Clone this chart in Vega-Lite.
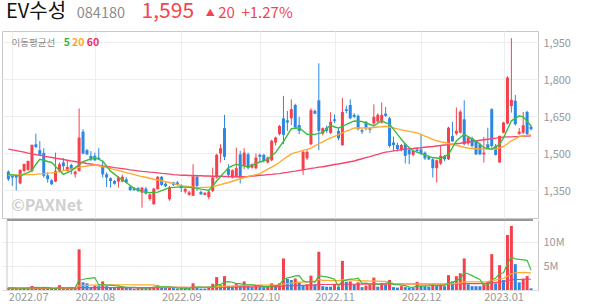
{
"$schema":"https://vega.github.io/schema/vega-lite/v6.json",
"background":"#ffffff",
"padding":{"left":1,"top":0,"right":0,"bottom":0},
"spacing":0,
"config":{"font":"Noto Sans CJK KR","view":{"stroke":"#c8c8c8"},"axis":{"labelFont":"Noto Sans CJK KR","labelColor":"#999999","labelFontSize":11,"gridColor":"#eeeeee"}},
"datasets":{"px":[
{"i":0,"d":"2022-06-30","o":1423,"h":1428,"l":1385,"c":1392,"v":0.5,"vup":1,"m5":1412,"m20":1408,"m60":1514,"v5":0.45,"v20":0.45,"v60":0.35},
{"i":1,"d":"2022-07-01","o":1405,"h":1412,"l":1365,"c":1399,"v":0.45,"vup":0,"m5":1410,"m20":1409,"m60":1511,"v5":0.45,"v20":0.45,"v60":0.35},
{"i":2,"d":"2022-07-04","o":1408,"h":1410,"l":1347,"c":1399,"v":0.3,"vup":0,"m5":1408,"m20":1409,"m60":1508,"v5":0.42,"v20":0.45,"v60":0.35},
{"i":3,"d":"2022-07-05","o":1375,"h":1432,"l":1372,"c":1430,"v":0.4,"vup":1,"m5":1406,"m20":1410,"m60":1505,"v5":0.42,"v20":0.45,"v60":0.35},
{"i":4,"d":"2022-07-06","o":1426,"h":1456,"l":1420,"c":1454,"v":0.35,"vup":0,"m5":1413,"m20":1410,"m60":1502,"v5":0.4,"v20":0.45,"v60":0.35},
{"i":5,"d":"2022-07-07","o":1430,"h":1468,"l":1426,"c":1466,"v":0.5,"vup":1,"m5":1419,"m20":1411,"m60":1498,"v5":0.42,"v20":0.45,"v60":0.35},
{"i":6,"d":"2022-07-08","o":1426,"h":1534,"l":1420,"c":1531,"v":0.85,"vup":1,"m5":1428,"m20":1411,"m60":1495,"v5":0.48,"v20":0.45,"v60":0.35},
{"i":7,"d":"2022-07-11","o":1534,"h":1577,"l":1518,"c":1523,"v":0.55,"vup":0,"m5":1452,"m20":1412,"m60":1492,"v5":0.53,"v20":0.45,"v60":0.35},
{"i":8,"d":"2022-07-12","o":1510,"h":1547,"l":1487,"c":1491,"v":0.3,"vup":0,"m5":1473,"m20":1414,"m60":1489,"v5":0.51,"v20":0.45,"v60":0.35},
{"i":9,"d":"2022-07-13","o":1499,"h":1518,"l":1398,"c":1406,"v":0.55,"vup":1,"m5":1469,"m20":1415,"m60":1486,"v5":0.55,"v20":0.45,"v60":0.35},
{"i":10,"d":"2022-07-14","o":1408,"h":1420,"l":1378,"c":1392,"v":0.3,"vup":0,"m5":1464,"m20":1417,"m60":1483,"v5":0.51,"v20":0.45,"v60":0.35},
{"i":11,"d":"2022-07-15","o":1388,"h":1392,"l":1369,"c":1372,"v":0.25,"vup":0,"m5":1460,"m20":1418,"m60":1480,"v5":0.39,"v20":0.45,"v60":0.35},
{"i":12,"d":"2022-07-18","o":1383,"h":1500,"l":1380,"c":1426,"v":0.4,"vup":1,"m5":1444,"m20":1420,"m60":1477,"v5":0.37,"v20":0.45,"v60":0.35},
{"i":13,"d":"2022-07-19","o":1426,"h":1460,"l":1420,"c":1453,"v":1.0,"vup":1,"m5":1428,"m20":1423,"m60":1475,"v5":0.5,"v20":0.45,"v60":0.35},
{"i":14,"d":"2022-07-20","o":1460,"h":1478,"l":1426,"c":1445,"v":0.4,"vup":0,"m5":1412,"m20":1427,"m60":1472,"v5":0.47,"v20":0.45,"v60":0.35},
{"i":15,"d":"2022-07-21","o":1426,"h":1466,"l":1423,"c":1442,"v":0.3,"vup":0,"m5":1419,"m20":1430,"m60":1469,"v5":0.47,"v20":0.45,"v60":0.35},
{"i":16,"d":"2022-07-22","o":1450,"h":1455,"l":1412,"c":1434,"v":0.3,"vup":0,"m5":1426,"m20":1433,"m60":1466,"v5":0.48,"v20":0.45,"v60":0.35},
{"i":17,"d":"2022-07-25","o":1412,"h":1428,"l":1399,"c":1423,"v":0.28,"vup":0,"m5":1439,"m20":1436,"m60":1464,"v5":0.46,"v20":0.45,"v60":0.35},
{"i":18,"d":"2022-07-26","o":1426,"h":1679,"l":1423,"c":1561,"v":8.5,"vup":1,"m5":1451,"m20":1440,"m60":1461,"v5":2.1,"v20":0.9,"v60":0.5},
{"i":19,"d":"2022-07-27","o":1585,"h":1595,"l":1493,"c":1496,"v":1.6,"vup":0,"m5":1464,"m20":1443,"m60":1459,"v5":2.2,"v20":0.95,"v60":0.5},
{"i":20,"d":"2022-07-28","o":1510,"h":1515,"l":1490,"c":1493,"v":1.4,"vup":0,"m5":1469,"m20":1446,"m60":1456,"v5":2.4,"v20":0.98,"v60":0.5},
{"i":21,"d":"2022-07-29","o":1487,"h":1506,"l":1466,"c":1471,"v":0.6,"vup":0,"m5":1475,"m20":1448,"m60":1454,"v5":2.5,"v20":1.0,"v60":0.5},
{"i":22,"d":"2022-08-01","o":1487,"h":1500,"l":1466,"c":1469,"v":0.9,"vup":1,"m5":1480,"m20":1450,"m60":1451,"v5":2.6,"v20":1.02,"v60":0.5},
{"i":23,"d":"2022-08-02","o":1480,"h":1518,"l":1470,"c":1475,"v":0.8,"vup":0,"m5":1473,"m20":1447,"m60":1449,"v5":1.06,"v20":1.03,"v60":0.5},
{"i":24,"d":"2022-08-03","o":1446,"h":1466,"l":1399,"c":1412,"v":1.8,"vup":1,"m5":1466,"m20":1443,"m60":1446,"v5":1.1,"v20":1.08,"v60":0.5},
{"i":25,"d":"2022-08-04","o":1412,"h":1420,"l":1361,"c":1399,"v":0.8,"vup":0,"m5":1446,"m20":1439,"m60":1444,"v5":1.0,"v20":1.1,"v60":0.5},
{"i":26,"d":"2022-08-05","o":1396,"h":1400,"l":1358,"c":1385,"v":0.6,"vup":0,"m5":1425,"m20":1435,"m60":1442,"v5":1.0,"v20":1.1,"v60":0.5},
{"i":27,"d":"2022-08-08","o":1385,"h":1390,"l":1370,"c":1374,"v":0.4,"vup":0,"m5":1413,"m20":1431,"m60":1439,"v5":0.9,"v20":1.1,"v60":0.5},
{"i":28,"d":"2022-08-09","o":1383,"h":1405,"l":1358,"c":1399,"v":0.7,"vup":1,"m5":1400,"m20":1427,"m60":1437,"v5":0.86,"v20":1.1,"v60":0.5},
{"i":29,"d":"2022-08-10","o":1383,"h":1410,"l":1380,"c":1402,"v":0.8,"vup":1,"m5":1390,"m20":1423,"m60":1435,"v5":0.66,"v20":1.1,"v60":0.5},
{"i":30,"d":"2022-08-11","o":1392,"h":1400,"l":1375,"c":1379,"v":0.5,"vup":0,"m5":1379,"m20":1419,"m60":1433,"v5":0.6,"v20":1.1,"v60":0.5},
{"i":31,"d":"2022-08-12","o":1362,"h":1366,"l":1345,"c":1348,"v":0.5,"vup":0,"m5":1367,"m20":1415,"m60":1430,"v5":0.58,"v20":1.1,"v60":0.5},
{"i":32,"d":"2022-08-16","o":1356,"h":1360,"l":1345,"c":1348,"v":0.3,"vup":0,"m5":1355,"m20":1411,"m60":1428,"v5":0.56,"v20":1.08,"v60":0.5},
{"i":33,"d":"2022-08-17","o":1356,"h":1361,"l":1340,"c":1345,"v":0.4,"vup":1,"m5":1349,"m20":1407,"m60":1426,"v5":0.5,"v20":1.08,"v60":0.5},
{"i":34,"d":"2022-08-18","o":1338,"h":1361,"l":1277,"c":1358,"v":0.6,"vup":1,"m5":1342,"m20":1403,"m60":1424,"v5":0.46,"v20":1.08,"v60":0.5},
{"i":35,"d":"2022-08-19","o":1354,"h":1361,"l":1330,"c":1334,"v":0.4,"vup":0,"m5":1340,"m20":1400,"m60":1423,"v5":0.44,"v20":1.08,"v60":0.5},
{"i":36,"d":"2022-08-22","o":1312,"h":1335,"l":1305,"c":1331,"v":0.6,"vup":1,"m5":1338,"m20":1396,"m60":1421,"v5":0.46,"v20":1.08,"v60":0.5},
{"i":37,"d":"2022-08-23","o":1291,"h":1358,"l":1288,"c":1354,"v":0.7,"vup":1,"m5":1339,"m20":1392,"m60":1420,"v5":0.54,"v20":1.08,"v60":0.5},
{"i":38,"d":"2022-08-24","o":1352,"h":1405,"l":1350,"c":1402,"v":1.0,"vup":1,"m5":1340,"m20":1389,"m60":1418,"v5":0.66,"v20":0.7,"v60":0.5},
{"i":39,"d":"2022-08-25","o":1402,"h":1405,"l":1365,"c":1369,"v":0.6,"vup":0,"m5":1346,"m20":1386,"m60":1416,"v5":0.66,"v20":0.62,"v60":0.5},
{"i":40,"d":"2022-08-26","o":1374,"h":1380,"l":1360,"c":1364,"v":0.4,"vup":0,"m5":1352,"m20":1382,"m60":1415,"v5":0.66,"v20":0.6,"v60":0.5},
{"i":41,"d":"2022-08-29","o":1311,"h":1365,"l":1305,"c":1361,"v":0.5,"vup":1,"m5":1358,"m20":1379,"m60":1413,"v5":0.64,"v20":0.58,"v60":0.55},
{"i":42,"d":"2022-08-30","o":1379,"h":1382,"l":1365,"c":1369,"v":0.4,"vup":0,"m5":1359,"m20":1375,"m60":1411,"v5":0.58,"v20":0.56,"v60":0.55},
{"i":43,"d":"2022-08-31","o":1379,"h":1385,"l":1366,"c":1369,"v":0.3,"vup":0,"m5":1360,"m20":1370,"m60":1410,"v5":0.44,"v20":0.55,"v60":0.55},
{"i":44,"d":"2022-09-01","o":1365,"h":1372,"l":1340,"c":1356,"v":0.4,"vup":1,"m5":1361,"m20":1366,"m60":1408,"v5":0.4,"v20":0.54,"v60":0.55},
{"i":45,"d":"2022-09-02","o":1342,"h":1358,"l":1334,"c":1353,"v":0.4,"vup":0,"m5":1360,"m20":1364,"m60":1408,"v5":0.4,"v20":0.53,"v60":0.55},
{"i":46,"d":"2022-09-05","o":1329,"h":1345,"l":1325,"c":1339,"v":0.3,"vup":0,"m5":1359,"m20":1362,"m60":1407,"v5":0.36,"v20":0.52,"v60":0.55},
{"i":47,"d":"2022-09-06","o":1325,"h":1453,"l":1325,"c":1404,"v":1.4,"vup":1,"m5":1358,"m20":1360,"m60":1407,"v5":0.56,"v20":0.56,"v60":0.56},
{"i":48,"d":"2022-09-07","o":1402,"h":1410,"l":1345,"c":1365,"v":0.6,"vup":0,"m5":1355,"m20":1358,"m60":1406,"v5":0.62,"v20":0.57,"v60":0.56},
{"i":49,"d":"2022-09-08","o":1341,"h":1346,"l":1329,"c":1331,"v":0.3,"vup":0,"m5":1352,"m20":1359,"m60":1406,"v5":0.6,"v20":0.57,"v60":0.56},
{"i":50,"d":"2022-09-13","o":1329,"h":1340,"l":1327,"c":1337,"v":0.3,"vup":0,"m5":1350,"m20":1359,"m60":1405,"v5":0.58,"v20":0.56,"v60":0.56},
{"i":51,"d":"2022-09-14","o":1320,"h":1350,"l":1311,"c":1342,"v":0.5,"vup":1,"m5":1347,"m20":1360,"m60":1405,"v5":0.62,"v20":0.57,"v60":0.56},
{"i":52,"d":"2022-09-15","o":1345,"h":1439,"l":1340,"c":1399,"v":1.3,"vup":1,"m5":1366,"m20":1361,"m60":1404,"v5":0.6,"v20":0.6,"v60":0.57},
{"i":53,"d":"2022-09-16","o":1399,"h":1495,"l":1395,"c":1491,"v":2.7,"vup":1,"m5":1385,"m20":1366,"m60":1404,"v5":1.02,"v20":0.7,"v60":0.6},
{"i":54,"d":"2022-09-19","o":1496,"h":1534,"l":1460,"c":1518,"v":1.0,"vup":0,"m5":1403,"m20":1370,"m60":1404,"v5":1.16,"v20":0.72,"v60":0.6},
{"i":55,"d":"2022-09-20","o":1599,"h":1653,"l":1470,"c":1483,"v":2.9,"vup":1,"m5":1421,"m20":1375,"m60":1403,"v5":1.68,"v20":0.82,"v60":0.62},
{"i":56,"d":"2022-09-21","o":1435,"h":1453,"l":1399,"c":1410,"v":0.8,"vup":0,"m5":1439,"m20":1379,"m60":1403,"v5":1.74,"v20":0.84,"v60":0.62},
{"i":57,"d":"2022-09-22","o":1399,"h":1432,"l":1395,"c":1429,"v":0.7,"vup":0,"m5":1446,"m20":1384,"m60":1403,"v5":1.62,"v20":0.85,"v60":0.62},
{"i":58,"d":"2022-09-23","o":1404,"h":1520,"l":1399,"c":1437,"v":1.3,"vup":1,"m5":1453,"m20":1389,"m60":1402,"v5":1.34,"v20":0.9,"v60":0.64},
{"i":59,"d":"2022-09-26","o":1493,"h":1507,"l":1375,"c":1399,"v":0.9,"vup":0,"m5":1449,"m20":1394,"m60":1402,"v5":1.32,"v20":0.92,"v60":0.64},
{"i":60,"d":"2022-09-27","o":1446,"h":1518,"l":1433,"c":1500,"v":1.8,"vup":1,"m5":1446,"m20":1399,"m60":1402,"v5":1.1,"v20":0.98,"v60":0.66},
{"i":61,"d":"2022-09-28","o":1493,"h":1500,"l":1432,"c":1437,"v":0.8,"vup":0,"m5":1442,"m20":1403,"m60":1403,"v5":1.1,"v20":1.0,"v60":0.66},
{"i":62,"d":"2022-09-29","o":1439,"h":1456,"l":1435,"c":1453,"v":0.6,"vup":0,"m5":1449,"m20":1407,"m60":1405,"v5":1.08,"v20":1.0,"v60":0.67},
{"i":63,"d":"2022-09-30","o":1437,"h":1496,"l":1432,"c":1480,"v":0.8,"vup":1,"m5":1456,"m20":1411,"m60":1406,"v5":0.98,"v20":1.0,"v60":0.68},
{"i":64,"d":"2022-10-04","o":1491,"h":1496,"l":1460,"c":1483,"v":0.7,"vup":0,"m5":1462,"m20":1415,"m60":1408,"v5":0.94,"v20":1.0,"v60":0.68},
{"i":65,"d":"2022-10-05","o":1491,"h":1495,"l":1460,"c":1466,"v":0.6,"vup":0,"m5":1467,"m20":1424,"m60":1409,"v5":0.7,"v20":1.0,"v60":0.7},
{"i":66,"d":"2022-10-06","o":1460,"h":1484,"l":1456,"c":1480,"v":0.8,"vup":1,"m5":1473,"m20":1433,"m60":1411,"v5":0.7,"v20":1.0,"v60":0.7},
{"i":67,"d":"2022-10-07","o":1469,"h":1552,"l":1465,"c":1548,"v":1.4,"vup":1,"m5":1487,"m20":1441,"m60":1412,"v5":0.86,"v20":1.02,"v60":0.72},
{"i":68,"d":"2022-10-11","o":1541,"h":1565,"l":1529,"c":1561,"v":1.0,"vup":0,"m5":1500,"m20":1450,"m60":1414,"v5":0.92,"v20":1.0,"v60":0.72},
{"i":69,"d":"2022-10-12","o":1575,"h":1612,"l":1570,"c":1608,"v":1.4,"vup":1,"m5":1523,"m20":1461,"m60":1415,"v5":1.04,"v20":1.02,"v60":0.74},
{"i":70,"d":"2022-10-13","o":1639,"h":1730,"l":1534,"c":1572,"v":6.6,"vup":1,"m5":1545,"m20":1473,"m60":1418,"v5":2.24,"v20":1.25,"v60":0.85},
{"i":71,"d":"2022-10-14","o":1631,"h":1669,"l":1588,"c":1622,"v":2.3,"vup":0,"m5":1571,"m20":1484,"m60":1420,"v5":2.54,"v20":1.35,"v60":0.88},
{"i":72,"d":"2022-10-17","o":1639,"h":1716,"l":1612,"c":1676,"v":2.1,"vup":0,"m5":1597,"m20":1495,"m60":1423,"v5":2.68,"v20":1.45,"v60":0.9},
{"i":73,"d":"2022-10-18","o":1693,"h":1698,"l":1600,"c":1602,"v":2.4,"vup":1,"m5":1599,"m20":1500,"m60":1425,"v5":2.96,"v20":1.55,"v60":0.93},
{"i":74,"d":"2022-10-19","o":1612,"h":1645,"l":1575,"c":1588,"v":1.7,"vup":0,"m5":1601,"m20":1504,"m60":1428,"v5":3.0,"v20":1.6,"v60":0.95},
{"i":75,"d":"2022-10-20","o":1429,"h":1508,"l":1410,"c":1503,"v":1.0,"vup":0,"m5":1588,"m20":1509,"m60":1430,"v5":1.9,"v20":1.65,"v60":0.96},
{"i":76,"d":"2022-10-21","o":1477,"h":1510,"l":1470,"c":1503,"v":1.2,"vup":1,"m5":1574,"m20":1513,"m60":1433,"v5":1.68,"v20":1.7,"v60":0.98},
{"i":77,"d":"2022-10-24","o":1534,"h":1680,"l":1530,"c":1672,"v":3.0,"vup":1,"m5":1574,"m20":1518,"m60":1436,"v5":1.86,"v20":1.8,"v60":1.02},
{"i":78,"d":"2022-10-25","o":1669,"h":1675,"l":1655,"c":1658,"v":1.2,"vup":0,"m5":1574,"m20":1527,"m60":1438,"v5":1.62,"v20":1.85,"v60":1.04},
{"i":79,"d":"2022-10-26","o":1712,"h":1862,"l":1510,"c":1588,"v":8.0,"vup":1,"m5":1578,"m20":1536,"m60":1441,"v5":2.98,"v20":2.2,"v60":1.15},
{"i":80,"d":"2022-10-27","o":1577,"h":1602,"l":1570,"c":1599,"v":0.8,"vup":0,"m5":1581,"m20":1544,"m60":1443,"v5":2.84,"v20":2.0,"v60":1.15},
{"i":81,"d":"2022-10-28","o":1601,"h":1610,"l":1580,"c":1588,"v":0.7,"vup":0,"m5":1598,"m20":1553,"m60":1446,"v5":2.74,"v20":2.0,"v60":1.15},
{"i":82,"d":"2022-10-31","o":1580,"h":1664,"l":1575,"c":1625,"v":0.7,"vup":0,"m5":1612,"m20":1560,"m60":1449,"v5":2.54,"v20":1.95,"v60":1.15},
{"i":83,"d":"2022-11-01","o":1635,"h":1655,"l":1620,"c":1629,"v":1.1,"vup":1,"m5":1604,"m20":1566,"m60":1452,"v5":2.26,"v20":1.95,"v60":1.16},
{"i":84,"d":"2022-11-02","o":1588,"h":1600,"l":1550,"c":1558,"v":0.7,"vup":0,"m5":1600,"m20":1573,"m60":1454,"v5":0.8,"v20":1.95,"v60":1.16},
{"i":85,"d":"2022-11-03","o":1530,"h":1722,"l":1528,"c":1665,"v":6.1,"vup":1,"m5":1605,"m20":1580,"m60":1457,"v5":1.88,"v20":2.1,"v60":1.2},
{"i":86,"d":"2022-11-04","o":1676,"h":1690,"l":1660,"c":1669,"v":1.7,"vup":0,"m5":1615,"m20":1587,"m60":1460,"v5":2.06,"v20":2.1,"v60":1.2},
{"i":87,"d":"2022-11-07","o":1693,"h":1716,"l":1635,"c":1639,"v":1.8,"vup":1,"m5":1622,"m20":1593,"m60":1463,"v5":2.28,"v20":2.1,"v60":1.2},
{"i":88,"d":"2022-11-08","o":1653,"h":1660,"l":1640,"c":1645,"v":1.2,"vup":0,"m5":1628,"m20":1600,"m60":1466,"v5":2.3,"v20":2.05,"v60":1.2},
{"i":89,"d":"2022-11-09","o":1649,"h":1655,"l":1590,"c":1595,"v":1.6,"vup":1,"m5":1627,"m20":1600,"m60":1471,"v5":2.48,"v20":2.0,"v60":1.22},
{"i":90,"d":"2022-11-10","o":1591,"h":1596,"l":1575,"c":1585,"v":0.6,"vup":0,"m5":1626,"m20":1600,"m60":1475,"v5":1.38,"v20":1.9,"v60":1.22},
{"i":91,"d":"2022-11-11","o":1625,"h":1628,"l":1590,"c":1601,"v":0.9,"vup":1,"m5":1620,"m20":1600,"m60":1480,"v5":1.42,"v20":1.9,"v60":1.22},
{"i":92,"d":"2022-11-14","o":1599,"h":1602,"l":1580,"c":1593,"v":1.1,"vup":1,"m5":1614,"m20":1600,"m60":1484,"v5":1.28,"v20":1.85,"v60":1.22},
{"i":93,"d":"2022-11-15","o":1618,"h":1696,"l":1610,"c":1645,"v":2.6,"vup":1,"m5":1608,"m20":1602,"m60":1489,"v5":1.36,"v20":1.85,"v60":1.24},
{"i":94,"d":"2022-11-16","o":1626,"h":1660,"l":1620,"c":1653,"v":0.7,"vup":0,"m5":1619,"m20":1604,"m60":1493,"v5":1.18,"v20":1.85,"v60":1.24},
{"i":95,"d":"2022-11-17","o":1622,"h":1703,"l":1618,"c":1653,"v":1.4,"vup":1,"m5":1629,"m20":1605,"m60":1498,"v5":1.34,"v20":1.8,"v60":1.24},
{"i":96,"d":"2022-11-18","o":1658,"h":1685,"l":1645,"c":1649,"v":1.1,"vup":0,"m5":1622,"m20":1607,"m60":1502,"v5":1.38,"v20":1.8,"v60":1.24},
{"i":97,"d":"2022-11-21","o":1639,"h":1645,"l":1520,"c":1527,"v":2.1,"vup":1,"m5":1615,"m20":1603,"m60":1504,"v5":1.58,"v20":1.5,"v60":1.25},
{"i":98,"d":"2022-11-22","o":1541,"h":1565,"l":1507,"c":1531,"v":0.6,"vup":0,"m5":1595,"m20":1600,"m60":1507,"v5":1.18,"v20":1.4,"v60":1.25},
{"i":99,"d":"2022-11-23","o":1531,"h":1540,"l":1505,"c":1514,"v":0.5,"vup":0,"m5":1574,"m20":1596,"m60":1509,"v5":1.14,"v20":1.35,"v60":1.25},
{"i":100,"d":"2022-11-24","o":1510,"h":1535,"l":1505,"c":1531,"v":0.8,"vup":1,"m5":1554,"m20":1592,"m60":1512,"v5":1.02,"v20":1.3,"v60":1.25},
{"i":101,"d":"2022-11-25","o":1534,"h":1540,"l":1456,"c":1487,"v":0.6,"vup":0,"m5":1534,"m20":1589,"m60":1514,"v5":0.92,"v20":1.3,"v60":1.25},
{"i":102,"d":"2022-11-28","o":1511,"h":1520,"l":1453,"c":1493,"v":0.5,"vup":0,"m5":1521,"m20":1586,"m60":1516,"v5":0.6,"v20":1.3,"v60":1.25},
{"i":103,"d":"2022-11-29","o":1491,"h":1512,"l":1485,"c":1507,"v":0.4,"vup":0,"m5":1507,"m20":1583,"m60":1517,"v5":0.56,"v20":1.28,"v60":1.25},
{"i":104,"d":"2022-11-30","o":1513,"h":1520,"l":1500,"c":1507,"v":1.7,"vup":1,"m5":1502,"m20":1580,"m60":1519,"v5":0.8,"v20":1.3,"v60":1.25},
{"i":105,"d":"2022-12-01","o":1513,"h":1575,"l":1490,"c":1496,"v":0.9,"vup":0,"m5":1496,"m20":1574,"m60":1520,"v5":0.82,"v20":1.28,"v60":1.25},
{"i":106,"d":"2022-12-02","o":1500,"h":1505,"l":1470,"c":1477,"v":0.8,"vup":0,"m5":1491,"m20":1567,"m60":1522,"v5":0.86,"v20":1.25,"v60":1.25},
{"i":107,"d":"2022-12-05","o":1482,"h":1488,"l":1470,"c":1473,"v":0.7,"vup":0,"m5":1485,"m20":1561,"m60":1524,"v5":0.9,"v20":1.22,"v60":1.25},
{"i":108,"d":"2022-12-06","o":1473,"h":1478,"l":1399,"c":1437,"v":1.1,"vup":1,"m5":1480,"m20":1554,"m60":1525,"v5":1.04,"v20":1.2,"v60":1.25},
{"i":109,"d":"2022-12-07","o":1437,"h":1472,"l":1379,"c":1469,"v":1.0,"vup":0,"m5":1478,"m20":1548,"m60":1527,"v5":0.9,"v20":1.2,"v60":1.25},
{"i":110,"d":"2022-12-08","o":1456,"h":1527,"l":1450,"c":1487,"v":1.2,"vup":1,"m5":1476,"m20":1544,"m60":1529,"v5":0.96,"v20":1.2,"v60":1.25},
{"i":111,"d":"2022-12-09","o":1487,"h":1490,"l":1465,"c":1473,"v":0.8,"vup":0,"m5":1485,"m20":1541,"m60":1531,"v5":0.96,"v20":1.2,"v60":1.25},
{"i":112,"d":"2022-12-12","o":1473,"h":1605,"l":1470,"c":1601,"v":3.1,"vup":1,"m5":1493,"m20":1537,"m60":1532,"v5":1.42,"v20":1.3,"v60":1.26},
{"i":113,"d":"2022-12-13","o":1568,"h":1625,"l":1545,"c":1545,"v":1.8,"vup":0,"m5":1520,"m20":1534,"m60":1534,"v5":1.58,"v20":1.35,"v60":1.27},
{"i":114,"d":"2022-12-14","o":1577,"h":1683,"l":1570,"c":1588,"v":2.9,"vup":1,"m5":1547,"m20":1530,"m60":1536,"v5":1.96,"v20":1.4,"v60":1.28},
{"i":115,"d":"2022-12-15","o":1581,"h":1672,"l":1578,"c":1666,"v":3.5,"vup":1,"m5":1561,"m20":1526,"m60":1538,"v5":2.42,"v20":1.5,"v60":1.3},
{"i":116,"d":"2022-12-16","o":1635,"h":1712,"l":1530,"c":1534,"v":6.6,"vup":1,"m5":1574,"m20":1522,"m60":1541,"v5":3.58,"v20":1.7,"v60":1.35},
{"i":117,"d":"2022-12-19","o":1537,"h":1565,"l":1530,"c":1561,"v":1.2,"vup":0,"m5":1565,"m20":1518,"m60":1543,"v5":3.4,"v20":1.7,"v60":1.35},
{"i":118,"d":"2022-12-20","o":1558,"h":1565,"l":1520,"c":1527,"v":0.8,"vup":0,"m5":1556,"m20":1517,"m60":1545,"v5":3.0,"v20":1.7,"v60":1.35},
{"i":119,"d":"2022-12-21","o":1547,"h":1550,"l":1490,"c":1493,"v":0.8,"vup":0,"m5":1547,"m20":1516,"m60":1547,"v5":2.58,"v20":1.7,"v60":1.35},
{"i":120,"d":"2022-12-22","o":1534,"h":1540,"l":1490,"c":1493,"v":0.8,"vup":0,"m5":1534,"m20":1515,"m60":1550,"v5":2.22,"v20":1.7,"v60":1.35},
{"i":121,"d":"2022-12-23","o":1493,"h":1564,"l":1460,"c":1500,"v":1.2,"vup":1,"m5":1520,"m20":1514,"m60":1552,"v5":0.96,"v20":1.7,"v60":1.4},
{"i":122,"d":"2022-12-26","o":1534,"h":1601,"l":1515,"c":1514,"v":1.7,"vup":1,"m5":1517,"m20":1514,"m60":1554,"v5":1.06,"v20":1.75,"v60":1.45},
{"i":123,"d":"2022-12-27","o":1676,"h":1680,"l":1520,"c":1527,"v":7.5,"vup":1,"m5":1514,"m20":1514,"m60":1556,"v5":2.1,"v20":2.0,"v60":1.55},
{"i":124,"d":"2022-12-28","o":1527,"h":1535,"l":1488,"c":1491,"v":1.4,"vup":0,"m5":1524,"m20":1514,"m60":1559,"v5":2.5,"v20":2.05,"v60":1.6},
{"i":125,"d":"2022-12-29","o":1460,"h":1568,"l":1460,"c":1568,"v":5.2,"vup":1,"m5":1534,"m20":1519,"m60":1561,"v5":3.4,"v20":2.3,"v60":1.7},
{"i":126,"d":"2023-01-02","o":1581,"h":1625,"l":1578,"c":1622,"v":2.1,"vup":0,"m5":1560,"m20":1525,"m60":1563,"v5":3.6,"v20":2.4,"v60":1.75},
{"i":127,"d":"2023-01-03","o":1618,"h":1810,"l":1615,"c":1804,"v":11.5,"vup":1,"m5":1595,"m20":1536,"m60":1564,"v5":5.5,"v20":2.9,"v60":1.95},
{"i":128,"d":"2023-01-04","o":1689,"h":1964,"l":1662,"c":1714,"v":13.4,"vup":1,"m5":1629,"m20":1548,"m60":1564,"v5":6.9,"v20":3.4,"v60":2.15},
{"i":129,"d":"2023-01-05","o":1710,"h":1734,"l":1610,"c":1615,"v":5.4,"vup":0,"m5":1639,"m20":1556,"m60":1565,"v5":6.5,"v20":3.6,"v60":2.2},
{"i":130,"d":"2023-01-06","o":1576,"h":1600,"l":1572,"c":1585,"v":1.6,"vup":0,"m5":1649,"m20":1565,"m60":1566,"v5":6.4,"v20":3.65,"v60":2.2},
{"i":131,"d":"2023-01-09","o":1581,"h":1665,"l":1575,"c":1611,"v":2.4,"vup":1,"m5":1645,"m20":1568,"m60":1567,"v5":6.3,"v20":3.7,"v60":2.2},
{"i":132,"d":"2023-01-10","o":1665,"h":1670,"l":1570,"c":1575,"v":2.9,"vup":1,"m5":1627,"m20":1570,"m60":1567,"v5":6.2,"v20":3.65,"v60":2.25},
{"i":133,"d":"2023-01-11","o":1605,"h":1612,"l":1590,"c":1595,"v":0.35,"vup":0,"m5":1608,"m20":1573,"m60":1568,"v5":4.2,"v20":3.6,"v60":2.25}
]},
"vconcat":[
{
"width":536,"height":187,
"data":{"name":"px"},
"encoding":{"x":{"field":"i","type":"quantitative","scale":{"domain":[-0.35,133.5],"nice":false,"zero":false},"axis":{"values":[1,22,44,64,83,105,126],"labels":false,"ticks":false,"domain":false,"grid":true,"title":null}}},
"layer":[
{"mark":{"type":"rule","strokeWidth":1},"encoding":{"y":{"field":"l","type":"quantitative","scale":{"domain":[1235,1993],"nice":false,"zero":false},"axis":{"orient":"right","values":[1350,1500,1650,1800,1950],"labelExpr":"format(datum.value, ',d')","grid":true,"domain":false,"ticks":false,"labelPadding":5,"labelOffset":1.5,"title":null}},"y2":{"field":"h"},"color":{"condition":{"test":"datum.c >= datum.o","value":"#f4414b"},"value":"#2b87e3"}}},
{"mark":{"type":"bar","size":3},"encoding":{"y":{"field":"o","type":"quantitative","title":null},"y2":{"field":"c"},"color":{"condition":{"test":"datum.c >= datum.o","value":"#f4414b"},"value":"#2b87e3"}}},
{"mark":{"type":"line","color":"#f5476c","strokeWidth":1.4},"encoding":{"y":{"field":"m60","type":"quantitative","title":null}}},
{"mark":{"type":"line","color":"#ffaa30","strokeWidth":1.4},"encoding":{"y":{"field":"m20","type":"quantitative","title":null}}},
{"mark":{"type":"line","color":"#3cbd3c","strokeWidth":1.4},"encoding":{"y":{"field":"m5","type":"quantitative","title":null}}},
{"transform":[{"filter":"datum.i == 0"}],"mark":{"type":"text","align":"left","baseline":"alphabetic","fontSize":20,"color":"#111111"},"encoding":{"x":{"datum":-0.6,"type":"quantitative"},"y":{"datum":2045.7,"type":"quantitative"},"text":{"value":"EV수성"}}},
{"transform":[{"filter":"datum.i == 0"}],"mark":{"type":"text","align":"left","baseline":"alphabetic","fontSize":14.5,"color":"#8c8c8c"},"encoding":{"x":{"datum":17.4,"type":"quantitative"},"y":{"datum":2046.9,"type":"quantitative"},"text":{"value":"084180"}}},
{"transform":[{"filter":"datum.i == 0"}],"mark":{"type":"text","align":"left","baseline":"alphabetic","fontSize":21,"color":"#f4454d"},"encoding":{"x":{"datum":33.9,"type":"quantitative"},"y":{"datum":2046.9,"type":"quantitative"},"text":{"value":"1,595"}}},
{"transform":[{"filter":"datum.i == 0"}],"mark":{"type":"text","align":"left","baseline":"alphabetic","fontSize":9,"color":"#f4454d"},"encoding":{"x":{"datum":50.2,"type":"quantitative"},"y":{"datum":2054,"type":"quantitative"},"text":{"value":"▲"}}},
{"transform":[{"filter":"datum.i == 0"}],"mark":{"type":"text","align":"left","baseline":"alphabetic","fontSize":15,"color":"#f4454d"},"encoding":{"x":{"datum":53.4,"type":"quantitative"},"y":{"datum":2046.9,"type":"quantitative"},"text":{"value":"20"}}},
{"transform":[{"filter":"datum.i == 0"}],"mark":{"type":"text","align":"left","baseline":"alphabetic","fontSize":15,"color":"#f4454d"},"encoding":{"x":{"datum":59.3,"type":"quantitative"},"y":{"datum":2046.9,"type":"quantitative"},"text":{"value":"+1.27%"}}},
{"transform":[{"filter":"datum.i == 0"}],"mark":{"type":"text","align":"left","baseline":"alphabetic","fontSize":9.5,"color":"#8a8a8a"},"encoding":{"x":{"datum":0.8,"type":"quantitative"},"y":{"datum":1932,"type":"quantitative"},"text":{"value":"이동평균선"}}},
{"transform":[{"filter":"datum.i == 0"}],"mark":{"type":"text","align":"left","baseline":"alphabetic","fontSize":10.5,"fontWeight":"bold","color":"#2fb82f"},"encoding":{"x":{"datum":14.1,"type":"quantitative"},"y":{"datum":1932,"type":"quantitative"},"text":{"value":"5"}}},
{"transform":[{"filter":"datum.i == 0"}],"mark":{"type":"text","align":"left","baseline":"alphabetic","fontSize":10.5,"fontWeight":"bold","color":"#ffa726"},"encoding":{"x":{"datum":16.2,"type":"quantitative"},"y":{"datum":1932,"type":"quantitative"},"text":{"value":"20"}}},
{"transform":[{"filter":"datum.i == 0"}],"mark":{"type":"text","align":"left","baseline":"alphabetic","fontSize":10.5,"fontWeight":"bold","color":"#f0306a"},"encoding":{"x":{"datum":19.95,"type":"quantitative"},"y":{"datum":1932,"type":"quantitative"},"text":{"value":"60"}}},
{"transform":[{"filter":"datum.i == 0"}],"mark":{"type":"text","align":"left","baseline":"alphabetic","fontSize":16,"fontWeight":"bold","color":"#d0d0d0"},"encoding":{"x":{"datum":0.7,"type":"quantitative"},"y":{"datum":1263,"type":"quantitative"},"text":{"value":"©PAXNet"}}}
]
},
{
"width":536,"height":70,
"view":{"stroke":null},
"data":{"name":"px"},
"encoding":{"x":{"field":"i","type":"quantitative","scale":{"domain":[-0.35,133.5],"nice":false,"zero":false},"axis":{"values":[1,22,44,64,83,105,126],"labelExpr":"['2022.07','2022.08','2022.09','2022.10','2022.11','2022.12','2023.01'][indexof([1,22,44,64,83,105,126], datum.value)]","labelAlign":{"condition":{"test":"datum.value == 1","value":"left"},"value":"center"},"labelOffset":{"condition":{"test":"datum.value == 1","value":-4},"value":0},"labelFlush":false,"ticks":false,"domain":true,"domainColor":"#dddddd","grid":true,"labelPadding":1,"title":null}}},
"layer":[
{"mark":{"type":"bar","size":3},"encoding":{"y":{"field":"v","type":"quantitative","scale":{"domain":[0,14.64],"nice":false},"axis":{"orient":"right","values":[5,10],"labelExpr":"datum.value + 'M'","grid":true,"domain":true,"domainColor":"#c8c8c8","ticks":false,"labelPadding":5,"labelOffset":0.5,"title":null}},"color":{"condition":{"test":"datum.vup == 1","value":"#f4414b"},"value":"#2b87e3"}}},
{"mark":{"type":"line","color":"#f5476c","strokeWidth":1.2},"encoding":{"y":{"field":"v60","type":"quantitative","title":null}}},
{"mark":{"type":"line","color":"#ffaa30","strokeWidth":1.2},"encoding":{"y":{"field":"v20","type":"quantitative","title":null}}},
{"mark":{"type":"line","color":"#3cbd3c","strokeWidth":1.2},"encoding":{"y":{"field":"v5","type":"quantitative","title":null}}},
{"transform":[{"filter":"datum.i == 0"}],"mark":{"type":"rule","color":"#333333","strokeWidth":1},"encoding":{"x":{"datum":-0.35,"type":"quantitative"},"x2":{"datum":133.5},"y":{"datum":14.64,"type":"quantitative"}}},
{"transform":[{"filter":"datum.i == 0"}],"mark":{"type":"rule","color":"#c8c8c8","strokeWidth":1},"encoding":{"x":{"datum":-0.35,"type":"quantitative"}}}
]
}
]
}
